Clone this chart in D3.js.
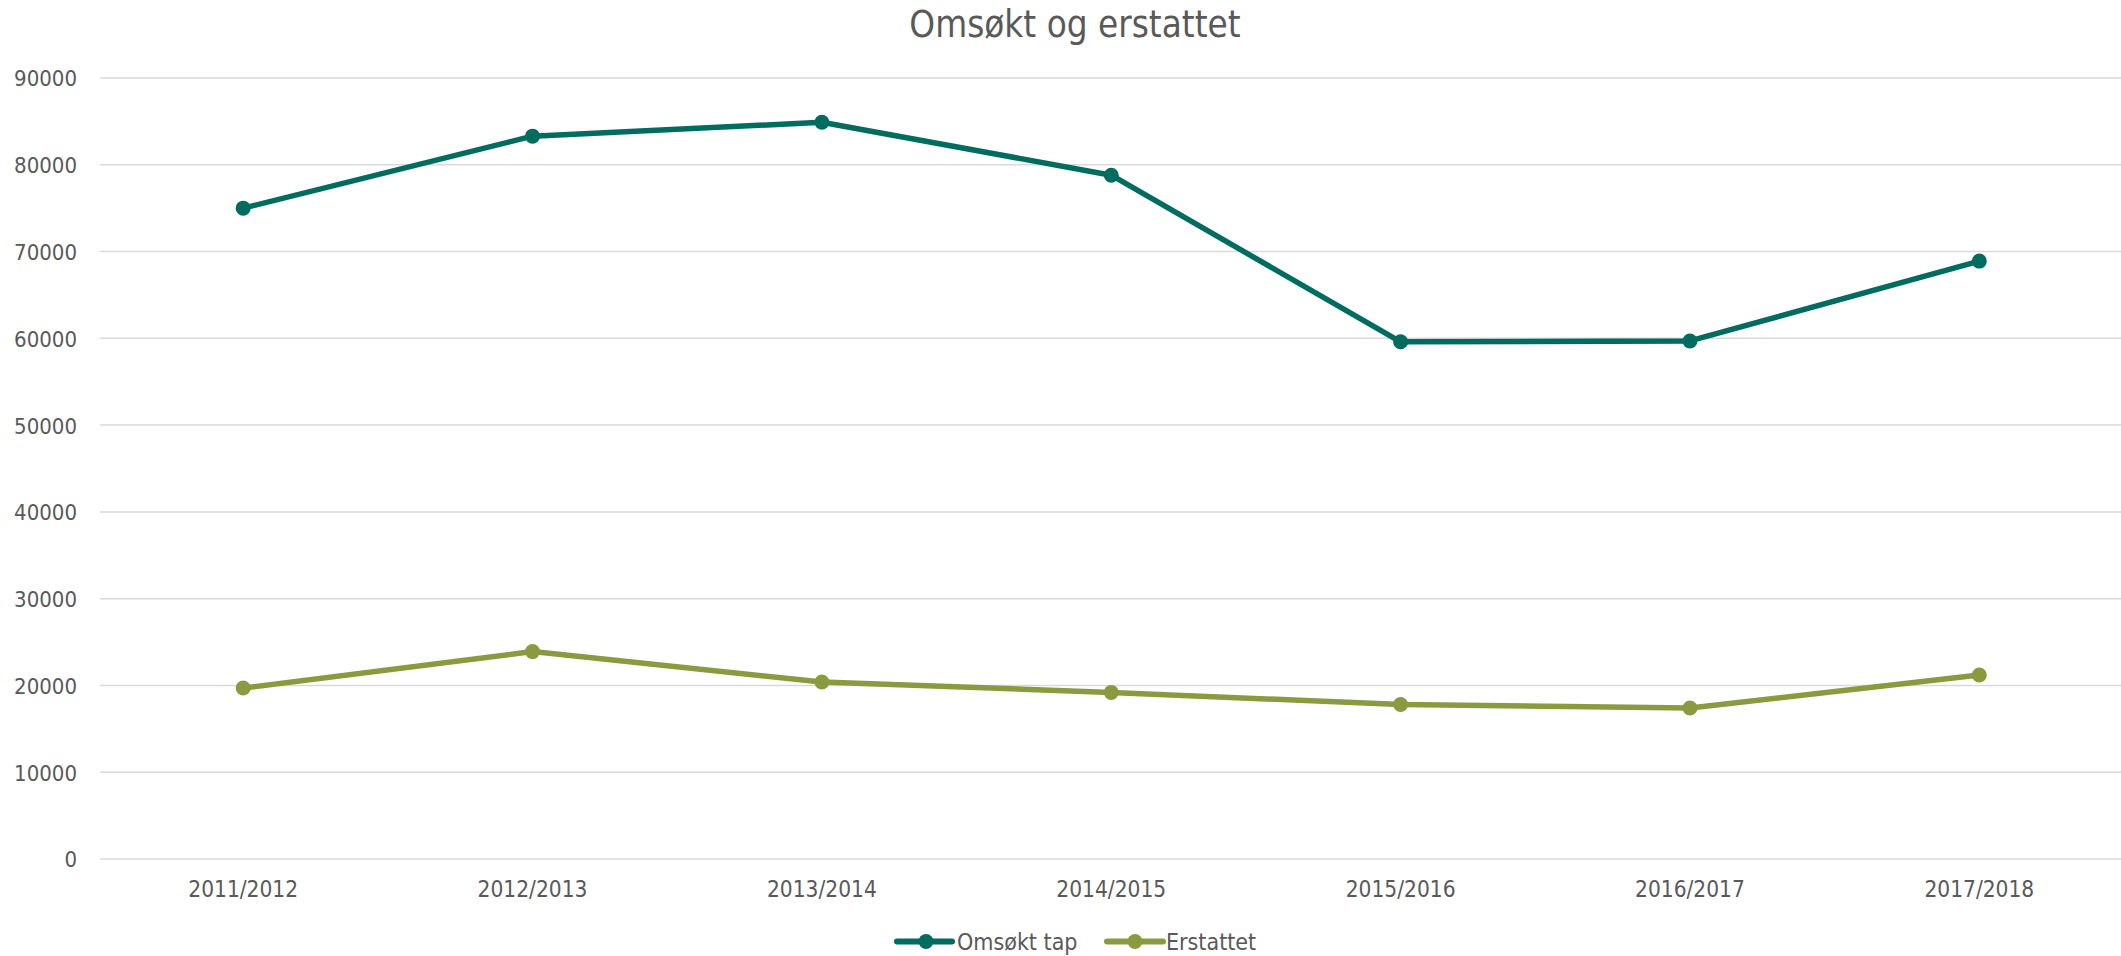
<!DOCTYPE html>
<html>
<head>
<meta charset="utf-8">
<script src="https://cdn.jsdelivr.net/npm/d3@7"></script>
<style>
  html, body { margin: 0; padding: 0; background: #fff; }
  svg { display: block; }
  text { font-family: "DejaVu Sans Condensed", "DejaVu Sans", sans-serif; font-stretch: condensed; fill: #595959; }
</style>
</head>
<body>
<svg id="chart" width="2121" height="956"></svg>
<script>
const title = "Omsøkt og erstattet";
const categories = ["2011/2012", "2012/2013", "2013/2014", "2014/2015", "2015/2016", "2016/2017", "2017/2018"];
const omsoktTap = [75000, 83300, 84900, 78800, 59600, 59700, 68900];
const erstattet = [19700, 23900, 20400, 19200, 17800, 17400, 21200];
const yTicks = [0, 10000, 20000, 30000, 40000, 50000, 60000, 70000, 80000, 90000];
const seriesNames = ["Omsøkt tap", "Erstattet"];
const seriesColors = ["#006b5f", "#8a9a3f"];

(function () {
const svg = d3.select("#chart");
const mLeft = 98.5, mRight = 2124, mTop = 78, mBottom = 859;

const x = d3.scaleBand().domain(categories).range([mLeft, mRight]).paddingInner(0).paddingOuter(0);
const y = d3.scaleLinear().domain([0, 90000]).range([mBottom, mTop]);

// gridlines
svg.append("g")
  .selectAll("line").data(yTicks).join("line")
  .attr("x1", 100).attr("x2", 2121)
  .attr("y1", d => y(d)).attr("y2", d => y(d))
  .attr("stroke", "#d9d9d9").attr("stroke-width", 1.5);

// y axis labels
const yAxis = d3.axisLeft(y).tickValues(yTicks).tickSize(0).tickPadding(0).tickFormat(d3.format("d"));
const gy = svg.append("g").attr("transform", `translate(77,0)`).call(yAxis);
gy.select(".domain").remove();
gy.selectAll("text").attr("font-size", 22).attr("fill", "#595959")
  .attr("font-family", "'DejaVu Sans Condensed', 'DejaVu Sans', sans-serif").attr("dy", "0.36em");

// x axis labels
const xAxis = d3.axisBottom(x).tickSize(0).tickPadding(0);
const gx = svg.append("g").attr("transform", `translate(0,${mBottom})`).call(xAxis);
gx.select(".domain").remove();
gx.selectAll("text").attr("font-size", 22.5).attr("fill", "#595959")
  .attr("font-family", "'DejaVu Sans Condensed', 'DejaVu Sans', sans-serif")
  .attr("dy", null).attr("y", 38);

// title
svg.append("text").attr("x", 1075).attr("y", 37).attr("text-anchor", "middle")
  .attr("font-size", 36.5).text(title);

// lines
const data = [omsoktTap, erstattet];
const line = d3.line().x((d, i) => x(categories[i]) + x.bandwidth() / 2).y(d => y(d));
data.forEach((vals, si) => {
  const g = svg.append("g");
  g.append("path").datum(vals).attr("d", line)
    .attr("fill", "none").attr("stroke", seriesColors[si]).attr("stroke-width", 5.5)
    .attr("stroke-linejoin", "round").attr("stroke-linecap", "round");
  g.selectAll("circle").data(vals).join("circle")
    .attr("cx", (d, i) => x(categories[i]) + x.bandwidth() / 2)
    .attr("cy", d => y(d)).attr("r", 7.5)
    .attr("fill", seriesColors[si]);
});

// legend
const legendItems = [
  { x0: 897, x1: 952, cx: 926, tx: 957 },
  { x0: 1107, x1: 1163, cx: 1135, tx: 1166 }
];
const ly = 941.5;
legendItems.forEach((it, i) => {
  svg.append("line").attr("x1", it.x0).attr("x2", it.x1).attr("y1", ly).attr("y2", ly)
    .attr("stroke", seriesColors[i]).attr("stroke-width", 6).attr("stroke-linecap", "round");
  svg.append("circle").attr("cx", it.cx).attr("cy", ly).attr("r", 7.5).attr("fill", seriesColors[i]);
  svg.append("text").attr("x", it.tx).attr("y", ly).attr("dy", "0.36em")
    .attr("font-size", 23).text(seriesNames[i]);
});
})();
</script>
</body>
</html>
